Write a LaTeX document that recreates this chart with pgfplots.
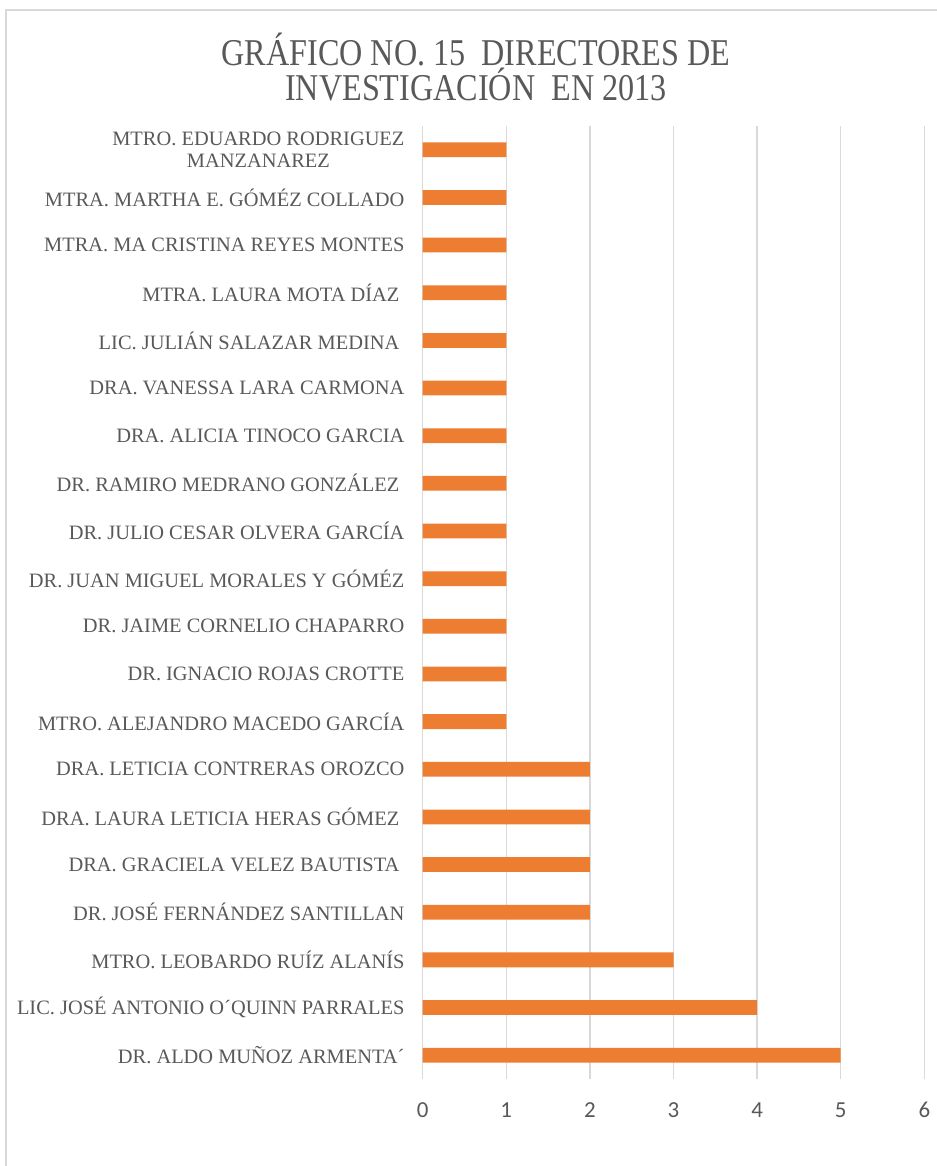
\documentclass[border=0pt]{standalone}
\usepackage{pgfplots}
\pgfplotsset{compat=1.18}
\usepackage{fontspec}
\setmainfont{Liberation Serif}
\newfontfamily\titlefont[FakeStretch=0.85]{Liberation Serif}
\newfontfamily\tickfont{Carlito}
\definecolor{txtc}{HTML}{595959}
\definecolor{barc}{HTML}{ED7D31}
\definecolor{gridc}{HTML}{D9D9D9}
\pgfplotstableread{
y v
0 5
1 4
2 3
3 2
4 2
5 2
6 2
7 1
8 1
9 1
10 1
11 1
12 1
13 1
14 1
15 1
16 1
17 1
18 1
19 1
}\datatable
\begin{document}
\begin{tikzpicture}[x=1bp,y=1bp]
\useasboundingbox (0,0) rectangle (937,1166);
\fill[white] (0,0) rectangle (937,1166);
\draw[gridc, line width=1.5bp] (6,0) -- (6,1156) -- (940,1156);
\node[text=txtc, align=center, font={\titlefont\fontsize{38}{36}\selectfont}] at (476,1099) {GRÁFICO NO. 15\ \ DIRECTORES DE\\INVESTIGACIÓN\ \ EN 2013};
\begin{axis}[
  at={(422.7bp,87bp)}, anchor=south west,
  scale only axis, width=501.6bp, height=953bp,
  xmin=0, xmax=6, ymin=-0.5, ymax=19.5,
  xbar, bar width=0.31,
  axis line style={draw=none},
  xmajorgrids=true, ymajorgrids=false,
  major grid style={draw=gridc, line width=1.5bp},
  major tick length=0pt, tick style={draw=none},
  xtick={0,1,2,3,4,5,6},
  ytick={0,...,19},
  xticklabel style={anchor=center, yshift=-31bp, text=txtc, font={\tickfont\fontsize{23}{23}\selectfont}},
  /pgf/number format/assume math mode=true,
  yticklabel style={anchor=east, inner sep=0pt, xshift=-18bp, text=txtc, align=center, font={\fontsize{20.5}{22}\selectfont}},
  yticklabels={
    {DR. ALDO MUÑOZ ARMENTA´},
    {LIC. JOSÉ ANTONIO O´QUINN PARRALES},
    {MTRO. LEOBARDO RUÍZ ALANÍS},
    {DR. JOSÉ FERNÁNDEZ SANTILLAN},
    {DRA. GRACIELA VELEZ BAUTISTA\ },
    {DRA. LAURA LETICIA HERAS GÓMEZ\ },
    {DRA. LETICIA CONTRERAS OROZCO},
    {MTRO. ALEJANDRO MACEDO GARCÍA},
    {DR. IGNACIO ROJAS CROTTE},
    {DR. JAIME CORNELIO CHAPARRO},
    {DR. JUAN MIGUEL MORALES Y GÓMÉZ},
    {DR. JULIO CESAR OLVERA GARCÍA},
    {DR. RAMIRO MEDRANO GONZÁLEZ\ },
    {DRA. ALICIA TINOCO GARCIA},
    {DRA. VANESSA LARA CARMONA},
    {LIC. JULIÁN SALAZAR MEDINA\ },
    {MTRA. LAURA MOTA DÍAZ\ },
    {MTRA. MA CRISTINA REYES MONTES},
    {MTRA. MARTHA E. GÓMÉZ COLLADO},
    {MTRO. EDUARDO RODRIGUEZ\\MANZANAREZ}
  },
  clip=false,
]
\addplot[fill=barc, draw=none] table[x=v, y=y] {\datatable};
\end{axis}
\end{tikzpicture}
\end{document}
